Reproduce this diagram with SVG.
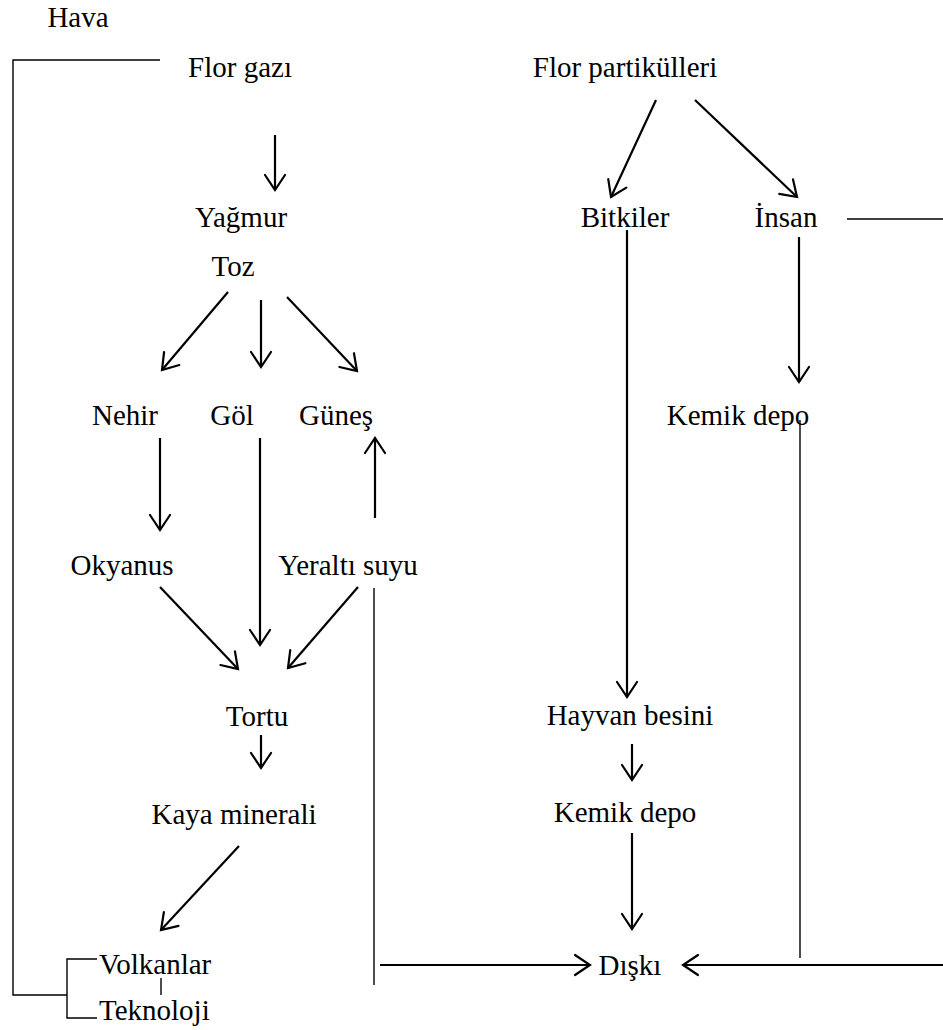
<svg xmlns="http://www.w3.org/2000/svg" width="943" height="1030" viewBox="0 0 943 1030">
<defs>
<marker id="ah" markerUnits="userSpaceOnUse" markerWidth="30" markerHeight="30" viewBox="-20 -15 30 30" refX="0" refY="0" orient="auto">
<path d="M-15,-10 L0,0 L-15,10" fill="none" stroke="#000" stroke-width="2.2" stroke-linecap="round" stroke-linejoin="miter"/>
</marker>
<style>
text{font-family:"Liberation Serif","Times New Roman",serif;font-size:29px;fill:#000}
.c{text-anchor:middle}
.a{fill:none;stroke:#000;stroke-width:2.2;marker-end:url(#ah)}
.t{fill:none;stroke:#000;stroke-width:1.4}
</style>
</defs>
<rect width="943" height="1030" fill="#fff"/>
<g id="connectors">
<path class="t" d="M160,60 H13 V995 H67"/>
<path class="t" d="M97,959 H67 V1018 H97"/>
<path class="t" d="M161,978 V995"/>
<path class="t" d="M847,219 H943"/>
<path class="t" d="M374,588 V985"/>
<path class="t" d="M800,420 V958"/>
<path class="a" d="M275,135 V190"/>
<path class="a" d="M228,292 L162,370"/>
<path class="a" d="M261,300 V367"/>
<path class="a" d="M287,297 L357,371"/>
<path class="a" d="M160,438 V530"/>
<path class="a" d="M260,438 V645"/>
<path class="a" d="M375,518 V438"/>
<path class="a" d="M160,587 L238,669"/>
<path class="a" d="M358,587 L288,668"/>
<path class="a" d="M261,735 V768"/>
<path class="a" d="M239,846 L161,930"/>
<path class="a" d="M656,100 L611,197"/>
<path class="a" d="M695,100 L797,197"/>
<path class="a" d="M627,230 V697"/>
<path class="a" d="M799,237 V382"/>
<path class="a" d="M632,744 V780"/>
<path class="a" d="M632,833 V929"/>
<path class="a" d="M380,965 H590"/>
<path class="a" d="M943,965 H683"/>
</g>
<g id="hava"><text class="c" x="78" y="27">Hava</text></g>
<g id="flor-gazi"><text class="c" x="240" y="77">Flor gazı</text></g>
<g id="flor-partikulleri"><text class="c" x="625" y="77">Flor partikülleri</text></g>
<g id="yagmur"><text class="c" x="241" y="227">Yağmur</text></g>
<g id="toz"><text class="c" x="233" y="276">Toz</text></g>
<g id="nehir"><text class="c" x="125" y="425">Nehir</text></g>
<g id="gol"><text class="c" x="232" y="425">Göl</text></g>
<g id="gunes"><text class="c" x="336" y="425">Güneş</text></g>
<g id="okyanus"><text class="c" x="122" y="575">Okyanus</text></g>
<g id="yeralti-suyu"><text class="c" x="348" y="575">Yeraltı suyu</text></g>
<g id="tortu"><text class="c" x="257" y="726">Tortu</text></g>
<g id="kaya-minerali"><text class="c" x="234" y="824">Kaya minerali</text></g>
<g id="volkanlar"><text x="99" y="974">Volkanlar</text></g>
<g id="teknoloji"><text x="99" y="1020">Teknoloji</text></g>
<g id="bitkiler"><text class="c" x="625" y="227">Bitkiler</text></g>
<g id="insan"><text class="c" x="786" y="227">İnsan</text></g>
<g id="kemik-depo-1"><text class="c" x="738" y="425">Kemik depo</text></g>
<g id="hayvan-besini"><text class="c" x="630" y="725">Hayvan besini</text></g>
<g id="kemik-depo-2"><text class="c" x="625" y="822">Kemik depo</text></g>
<g id="diski"><text class="c" x="630" y="975">Dışkı</text></g>
</svg>
